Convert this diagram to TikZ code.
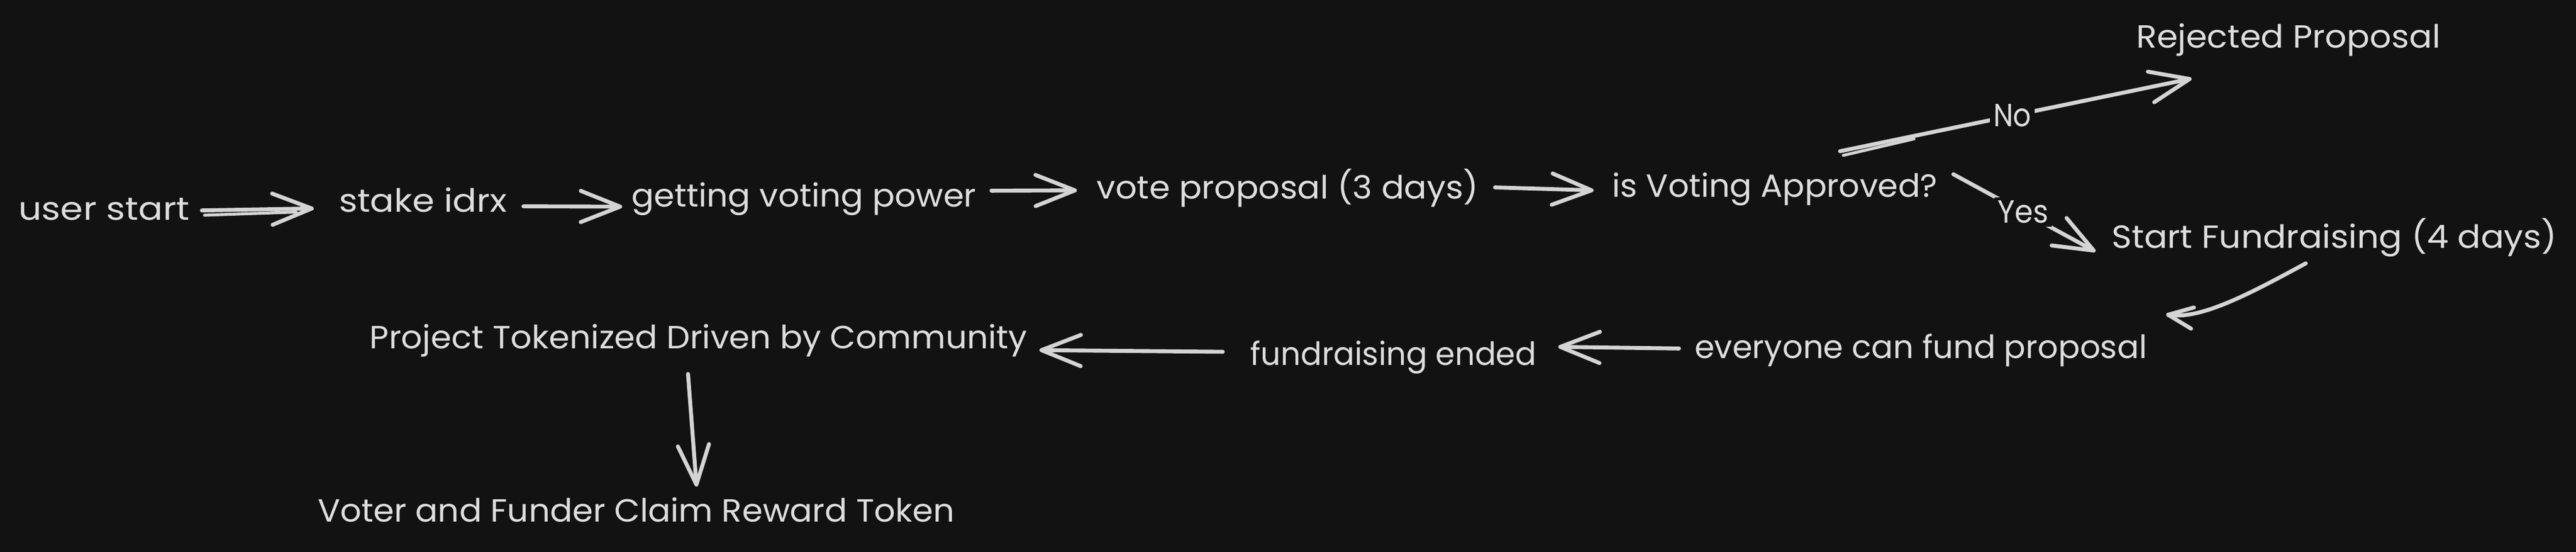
\documentclass[tikz,border=0pt]{standalone}
\usepackage{fontspec}
\setmainfont{Poppins}
\usetikzlibrary{arrows.meta,calc}
\definecolor{bg}{HTML}{121212}
\definecolor{fg}{HTML}{DEDEDE}
\definecolor{ln}{HTML}{D4D4D4}
\newcommand\fitw[2]{\resizebox{#1pt}{\height}{#2}}
\tikzset{
  txt/.style={anchor=base west, inner sep=0pt, outer sep=0pt, text=fg, font=\fontsize{19.5}{23}\selectfont},
  lbl/.style={fill=bg, inner sep=2pt, text=fg, font=\fontsize{19.5}{23}\selectfont},
  conn/.style={draw=ln, line width=2.4pt, line cap=round, line join=round,
    -{Straight Barb[length=24pt, width=19pt, round]}},
  smallconn/.style={draw=ln, line width=2.4pt, line cap=round, line join=round,
    -{Straight Barb[length=15pt, width=13pt, round]}},
  extra/.style={draw=ln, line width=1.8pt, line cap=round}
}
\begin{document}
\begin{tikzpicture}[x=1pt, y=-1pt]
\useasboundingbox (0,0) rectangle (1568,335.45);
\fill[bg] (-3,-3) rectangle (1571,339);

% nodes
\node[txt] (us) at (11.3,133.7) {\fitw{104.2}{user start}};
\node[txt] (si) at (206.3,129) {\fitw{102.3}{stake idrx}};
\node[txt] (gv) at (384.4,126) {\fitw{209.9}{getting voting power}};
\node[txt] (vp) at (667.6,121) {\fitw{232.4}{vote proposal (3 days)}};
\node[txt] (iv) at (981.5,119.8) {\fitw{197.8}{is Voting Approved?}};
\node[txt] (rp) at (1300.3,29) {\fitw{185.2}{Rejected Proposal}};
\node[txt] (sf) at (1285.3,150.8) {\fitw{271.1}{Start Fundraising (4 days)}};
\node[txt] (ec) at (1031.5,218) {\fitw{275.3}{everyone can fund proposal}};
\node[txt] (fe) at (761.2,222) {\fitw{174.1}{fundraising ended}};
\node[txt] (pt) at (225,212) {\fitw{400.4}{Project Tokenized Driven by Community}};
\node[txt] (vf) at (193.5,317.6) {\fitw{387.5}{Voter and Funder Claim Reward Token}};

% connectors
\draw[conn] ($(us.base east)+(7.4,-5.7)$) -- ($(si.base west)+(-15.3,-2.2)$);
\draw[extra] ($(us.base east)+(9,-2.8)$) -- ($(si.base west)+(-26,0)$);

\draw[conn] ($(si.base east)+(10,-3.5)$) -- ($(gv.base west)+(-5.7,-0.3)$);
\draw[conn] ($(gv.base east)+(9.2,-10)$) -- ($(vp.base west)+(-12.1,-5.2)$);
\draw[conn] ($(vp.base east)+(10,-7)$) -- ($(iv.base west)+(-11.5,-4)$);

\draw[conn] ($(iv.base east)+(-59.3,-27.8)$) -- node[lbl, pos=0.49] (no) {\fitw{23}{No}} ($(rp.base west)+(33.7,18.8)$);
\draw[extra] ($(iv.base east)+(-57.3,-25.3)$) -- ($(iv.base east)+(-14.3,-35.3)$);

\draw[conn] ($(iv.base east)+(9.7,-13.8)$) -- node[lbl, pos=0.49] (yes) {\fitw{31}{Yes}} ($(sf.base west)+(-9.8,2.2)$);

\coordinate (cs) at ($(sf.base west)+(118.2,9.4)$);
\coordinate (ce) at ($(ec.base east)+(11.7,-26.7)$);
\draw[smallconn] (cs) .. controls +(-32.5,17.6) and +(22,3) .. (ce);

\draw[conn] ($(ec.base west)+(-9.5,-6)$) -- ($(fe.base east)+(13.2,-11)$);
\draw[conn] ($(fe.base west)+(-16.9,-8)$) -- ($(pt.base east)+(7.3,1)$);
\draw[conn] ($(pt.base west)+(193.8,15.5)$) -- ($(vf.base west)+(230.5,-21.6)$);
\end{tikzpicture}
\end{document}
